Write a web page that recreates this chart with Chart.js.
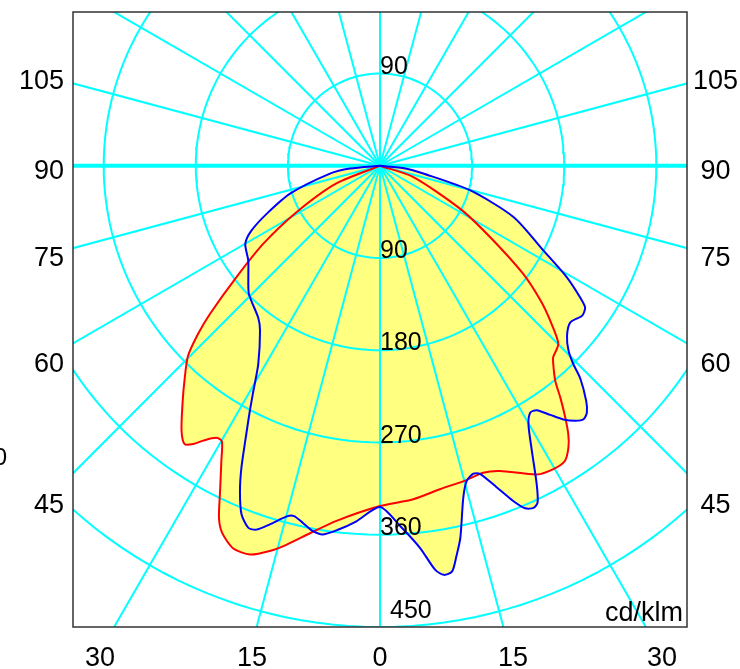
<!DOCTYPE html>
<html>
<head>
<meta charset="utf-8">
<script src="https://cdn.jsdelivr.net/npm/chart.js@4.4.1/dist/chart.umd.min.js"></script>
<style>
    body { margin: 0; background: #ffffff; }
    canvas { display: block; }
</style>
</head>
<body>
<canvas id="chart" width="740" height="669"></canvas>
<script>
// luminous intensity diagram, cd/klm
// gamma = angle from nadir in degrees, negative = left half of the diagram

// red curve (C0 - C180)
const gammaRed = [-90, -68, -61, -56.3, -52.2, -49, -47.3, -45.3, -42.3, -40,
    -36.9, -35.1, -33.9, -32.8, -31.1, -29.9, -28.3, -26.2, -24.6, -23.3,
    -21, -18.5, -16, -13.9, -10.8, -7, 0, 5.7, 10.5, 15.5,
    18.6, 21.5, 27, 29.8, 32.1, 33.8, 35.1, 36.4, 37.9, 39.2,
    41.2, 42.2, 45.1, 47.7, 50, 53, 57.1, 61.8, 71.4, 90];
const redValues = [0, 46, 93, 137, 178, 220, 242, 264, 284, 300,
    323, 332, 327, 319, 310, 310, 327, 354, 378, 390,
    400, 400, 391, 381, 365, 349, 332, 327, 321, 318,
    316, 320, 338, 341, 340, 331, 320, 305, 287, 271,
    257, 252, 246, 225, 205, 175, 128, 89, 34, 0];

// blue curve (C90 - C270)
const gammaBlue = [-90, -84.7, -81.1, -72.8, -67.1, -63.3, -60, -54.3, -50.6, -45.7,
    -38.8, -36.1, -31.6, -29.4, -28, -26.5, -24.7, -23.3, -21.7, -20,
    -18.8, -17.1, -14.9, -13.8, -12.2, -10.4, -8.8, -6.6, -3.8, 0,
    3.2, 6, 7.8, 8.9, 10.1, 11.1, 12.2, 14.1, 15.4, 16.9,
    18, 20, 21.7, 23, 24.2, 25.1, 26.2, 28.1, 29.9, 31.4,
    32.7, 34.4, 35.9, 37.5, 38.8, 40, 41.3, 43.3, 44.3, 45.6,
    47.8, 50.6, 53.5, 55.4, 56.7, 59.2, 62.6, 69, 74.8, 79.8,
    84, 90];
const blueValues = [0, 29.5, 49.5, 92, 120, 140.5, 152, 158.5, 166.5, 179,
    190, 199, 227, 252, 271, 293, 324, 346, 366, 376,
    375, 366, 354, 352, 356.5, 362.5, 364, 357.5, 347.6, 333,
    352, 375, 398, 404, 402, 388, 371.5, 334, 319, 314,
    316, 334, 352, 363, 366, 363, 347, 315, 291, 282,
    283.5, 294.6, 305.5, 313.6, 317.4, 314.5, 305.3, 285.5, 270.6, 257.9,
    246.7, 240.7, 245.8, 243.5, 234, 212.6, 180, 140, 91, 43,
    25, 0];

// grid and tick labels
const circleValues = [90, 180, 270, 360, 450];
const circleLabels = ["90", "180", "270", "360", "450"];
const spokeStep = 15;
const sideLabels = ["105", "90", "75", "60", "45"];
const bottomLabels = ["30", "15", "0", "15", "30"];
const unitLabel = "cd/klm";

const cyan = "#00ffff";
const fillYellow = "rgb(255,255,128)";

const toPoint = (gamma, value) => {
    const rad = gamma * Math.PI / 180;
    return { x: value * Math.sin(rad), y: -value * Math.cos(rad) };
};

const curvePoints = (gammas, values) => gammas.map((g, i) => toPoint(g, values[i]));

const makeGridDatasets = () => {
    let sets = [];
    circleValues.forEach(r => {
        let pts = [];
        for (let a = 0; a <= 360; a += 2) {
            pts.push(toPoint(a, r));
        }
        sets.push({ data: pts, borderColor: cyan, borderWidth: 2, order: 2 });
    });
    for (let a = 0; a < 360; a += spokeStep) {
        const thick = (a === 90 || a === 270);
        sets.push({
            data: [toPoint(a, 0), toPoint(a, 800)],
            borderColor: cyan,
            borderWidth: thick ? 4 : 2,
            order: 2,
        });
    }
    return sets;
};

const redPts = curvePoints(gammaRed, redValues);
const bluePts = curvePoints(gammaBlue, blueValues);

const labelsPlugin = {
    id: "polarLabels",
    afterDatasetsDraw(chart) {
        const { ctx, chartArea, scales } = chart;
        const cx = scales.x.getPixelForValue(0);
        ctx.save();
        ctx.strokeStyle = "#333333";
        ctx.lineWidth = 1.5;
        ctx.strokeRect(chartArea.left, chartArea.top, chartArea.width, chartArea.height);

        ctx.fillStyle = "#000000";
        ctx.textBaseline = "alphabetic";

        // intensity labels along the vertical axis
        ctx.font = "25px 'Liberation Sans', Arial, sans-serif";
        ctx.textAlign = "left";
        ctx.fillText(circleLabels[0], cx, scales.y.getPixelForValue(circleValues[0]));
        circleLabels.forEach((lab, i) => {
            if (i === circleLabels.length - 1) {
                ctx.fillText(lab, cx + 10, scales.y.getPixelForValue(-circleValues[i]) - 9);
            } else {
                ctx.fillText(lab, cx, scales.y.getPixelForValue(-circleValues[i]));
            }
        });

        // angle labels
        ctx.font = "27px 'Liberation Sans', Arial, sans-serif";
        const sideBase = [89, 179, 266, 372, 513];
        sideLabels.forEach((lab, i) => {
            ctx.textAlign = "right";
            ctx.fillText(lab, 64, sideBase[i]);
            ctx.textAlign = "center";
            ctx.fillText(lab, 715.5, sideBase[i]);
        });
        const bottomX = [100, 252, 380, 513, 662];
        ctx.textAlign = "center";
        bottomLabels.forEach((lab, i) => {
            ctx.fillText(lab, bottomX[i], 666);
        });

        ctx.textAlign = "right";
        ctx.fillText(unitLabel, chartArea.right - 4, chartArea.bottom - 6);

        // cut off label at the left edge
        ctx.font = "24px 'Liberation Sans', Arial, sans-serif";
        ctx.fillText("0", 7, 465);
        ctx.restore();
    },
};

const makeGraph = () => {
    const datasets = [
        { data: redPts, fill: "shape", backgroundColor: fillYellow, borderWidth: 0, tension: 0.25, order: 3 },
        { data: bluePts, fill: "shape", backgroundColor: fillYellow, borderWidth: 0, tension: 0.25, order: 3 },
        ...makeGridDatasets(),
        { data: redPts, borderColor: "#ff0000", borderWidth: 2, tension: 0.25, order: 1 },
        { data: bluePts, borderColor: "#0000ff", borderWidth: 2, tension: 0.25, order: 0 },
    ];
    datasets.forEach(ds => {
        ds.showLine = true;
        ds.pointRadius = 0;
        ds.pointHoverRadius = 0;
        ds.clip = 0;
    });

    const ctx = document.getElementById("chart").getContext("2d");
    new Chart(ctx, {
        type: "scatter",
        data: { datasets: datasets },
        options: {
            responsive: false,
            animation: false,
            events: [],
            layout: { padding: { left: 73, right: 53, top: 12, bottom: 42 } },
            plugins: { legend: { display: false }, tooltip: { enabled: false } },
            scales: {
                x: { type: "linear", min: -300, max: 300, display: false },
                y: { type: "linear", min: -450, max: 150, display: false },
            },
        },
        plugins: [labelsPlugin],
    });
};

makeGraph();
</script>
</body>
</html>
